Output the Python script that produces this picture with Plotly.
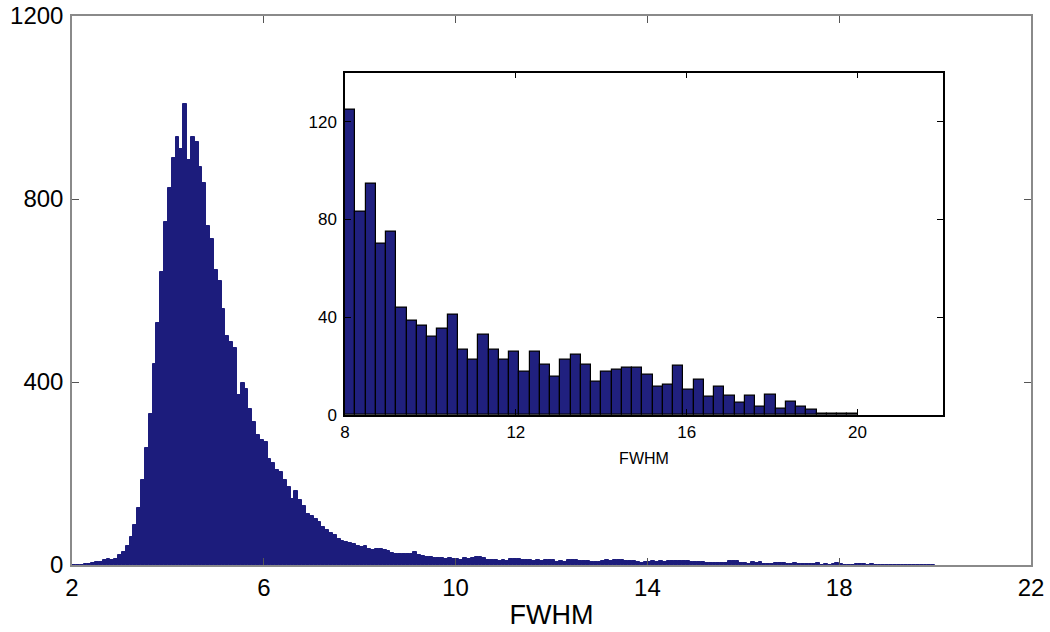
import numpy as np
import plotly.graph_objects as go

# ---- main histogram (FWHM, bins of 0.08 from 2.0 to 20.0) ----
MAIN_BIN_START = 2.0
MAIN_BIN_WIDTH = 0.08
main_counts = [
    0, 0, 1, 3, 3, 5, 6, 7, 10, 13,
    11, 14, 21, 29, 42, 62, 88, 125, 185, 255,
    330, 440, 530, 640, 750, 825, 890, 935, 910, 1008,
    885, 935, 925, 870, 835, 740, 712, 645, 620, 560,
    500, 488, 474, 372, 398, 385, 340, 312, 285, 273,
    268, 232, 224, 208, 204, 185, 170, 145, 162, 141,
    128, 112, 108, 101, 94, 82, 76, 71, 66, 56,
    52, 50, 49, 46, 42, 40, 42, 36, 33, 34,
    36, 32, 30, 27, 25, 24, 23, 25, 23, 29,
    22, 20, 18, 17, 16, 15, 16, 14, 15, 13,
    14, 12, 15, 14, 16, 17, 18, 16, 12, 11,
    10, 9, 10, 8, 13, 14, 14, 11, 12, 10,
    9, 10, 8, 11, 10, 12, 7, 8, 7, 11,
    10, 12, 9, 8, 9, 6, 7, 6, 9, 10,
    9, 10, 11, 10, 9, 8, 9, 6, 5, 6,
    7, 8, 7, 8, 7, 8, 8, 9, 8, 8,
    8, 7, 7, 6, 7, 5, 4, 5, 5, 5,
    4, 8, 9, 8, 4, 4, 3, 6, 5, 6,
    3, 3, 2, 5, 4, 5, 3, 3, 4, 2,
    2, 3, 3, 3, 4, 1, 2, 1, 3, 4,
    3, 1, 1, 1, 2, 2, 3, 1, 2, 1,
    1, 1, 1, 1, 0, 1, 1, 0, 1, 1,
    0, 1, 0, 1, 1,
]

# ---- inset histogram (FWHM 8..20, 50 bins) ----
INSET_BIN_START = 8.0
INSET_BIN_WIDTH = 0.24
inset_counts = [
    125, 83, 94.5, 70, 75, 44, 38.4, 36.6, 31.9, 35.5,
    41, 26.7, 22.6, 32.8, 26.7, 22.6, 25.8, 17.6, 25.8, 20.7,
    15.6, 22.6, 24.7, 20.7, 13.6, 17.6, 18.6, 19.4, 19.4, 16.3,
    11.5, 12.2, 20.3, 10.2, 14.5, 7.5, 11.5, 7.7, 5.2, 7.7,
    3.4, 8.4, 2.4, 5.4, 3.4, 2.3, 0.7, 0.7, 0.6, 0.6,
]

main_xticks = [2, 6, 10, 14, 18, 22]
main_yticks = [0, 400, 800, 1200]
inset_xticks = [8, 12, 16, 20]
inset_yticks = [0, 40, 80, 120]

main_x = MAIN_BIN_START + MAIN_BIN_WIDTH * (np.arange(len(main_counts)) + 0.5)
inset_x = INSET_BIN_START + INSET_BIN_WIDTH * (np.arange(len(inset_counts)) + 0.5)

NAVY = "#1c1c7c"
FONT = "Liberation Sans, Arial, sans-serif"

fig = go.Figure()
fig.add_trace(go.Bar(
    x=main_x, y=main_counts, width=MAIN_BIN_WIDTH,
    marker=dict(color=NAVY, line=dict(width=1.0, color=NAVY)),
    xaxis="x", yaxis="y", hoverinfo="x+y",
))
fig.add_trace(go.Bar(
    x=inset_x, y=inset_counts, width=INSET_BIN_WIDTH,
    marker=dict(color="#20207f", line=dict(width=1.2, color="black")),
    xaxis="x2", yaxis="y2", hoverinfo="x+y",
))

W, H = 1050, 632
L, R, T, B = 72, 19, 16, 67
pw, ph = W - L - R, H - T - B
inset_px = (345, 943, 72.7, 415)  # left, right, top, bottom
x2dom = [(inset_px[0] - L) / pw, (inset_px[1] - L) / pw]
y2dom = [(H - B - inset_px[3]) / ph, (H - B - inset_px[2]) / ph]

main_axis_common = dict(
    ticks="inside", ticklen=7, tickwidth=1.2, tickcolor="#555",
    showline=True, linecolor="#8a8a8a", linewidth=1.5, mirror="ticks",
    showgrid=False, zeroline=False, automargin=False,
    ticklabeloverflow="allow",
    tickfont=dict(family=FONT, size=24, color="black"),
)
inset_axis_common = dict(
    ticks="inside", ticklen=6, tickwidth=1.2, tickcolor="black",
    showline=True, linecolor="black", linewidth=1.5, mirror="ticks",
    showgrid=False, zeroline=False, automargin=False,
    tickfont=dict(family=FONT, size=17, color="black"),
)

fig.update_layout(
    width=W, height=H,
    margin=dict(l=L, r=R, t=T, b=B, autoexpand=False),
    paper_bgcolor="white", plot_bgcolor="white",
    showlegend=False, bargap=0,
    xaxis=dict(domain=[0, 1], range=[2, 22], tickvals=main_xticks,
               title=dict(text="FWHM", font=dict(family=FONT, size=27, color="black"), standoff=6),
               ticklabelstandoff=0, anchor="y", **main_axis_common),
    yaxis=dict(domain=[0, 1], range=[0, 1200], tickvals=main_yticks,
               ticklabelstandoff=2, anchor="x", **main_axis_common),
    xaxis2=dict(domain=x2dom, range=[8, 22], tickvals=inset_xticks, anchor="y2",
                title=dict(text="FWHM", font=dict(family=FONT, size=16, color="black"), standoff=12),
                ticklabelstandoff=1, **inset_axis_common),
    yaxis2=dict(domain=y2dom, range=[0, 140], tickvals=inset_yticks, anchor="x2",
                ticklabelstandoff=3, **inset_axis_common),
)

# remove the default 8px page margin so the figure fills the window exactly
fig.write_html(
    "out.html",
    config={"displayModeBar": False},
    post_script="document.body.style.margin='0px';",
)
